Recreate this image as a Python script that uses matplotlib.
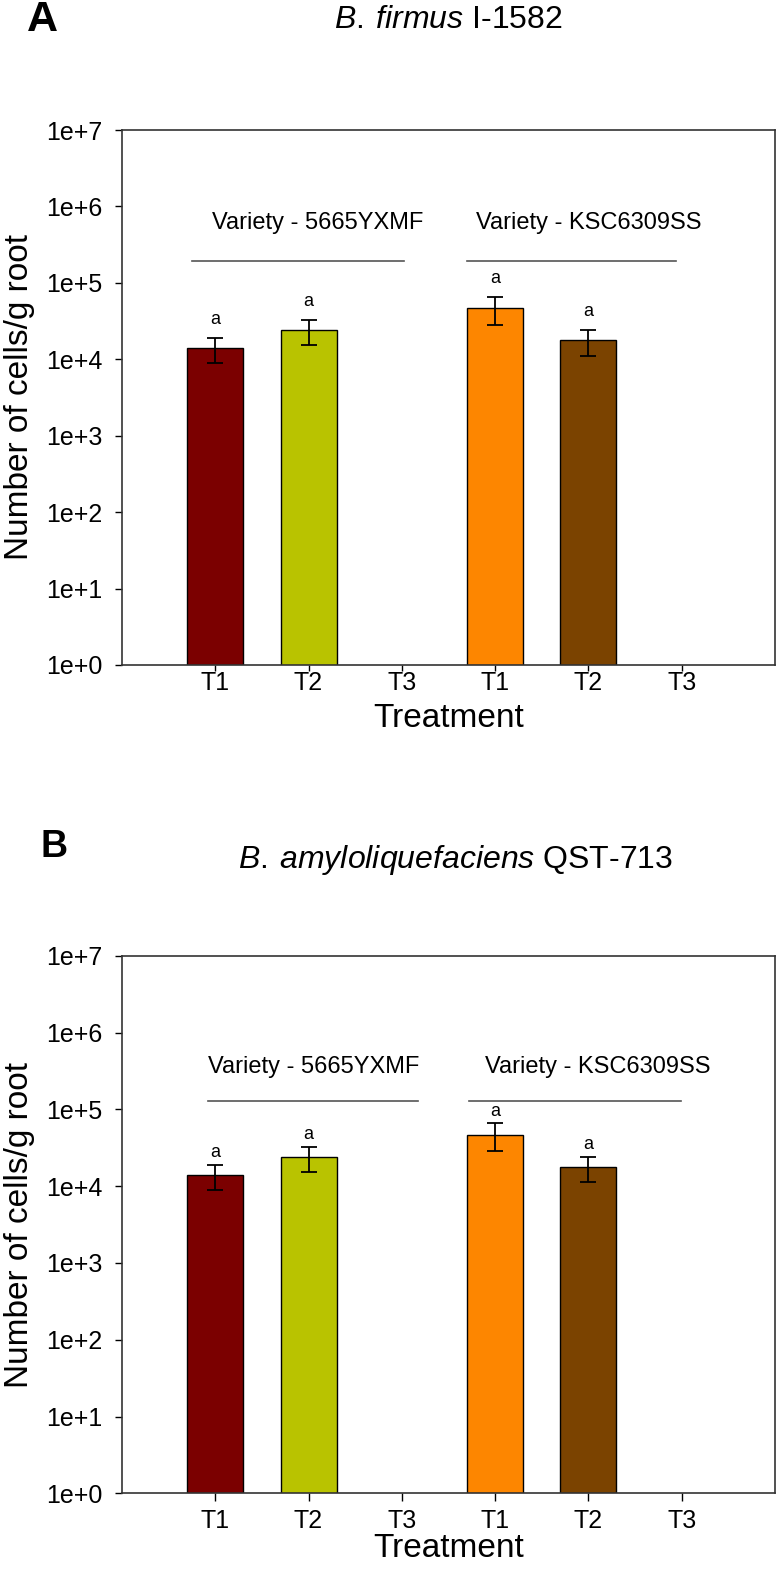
import numpy as np
import matplotlib
matplotlib.use("Agg")
import matplotlib.pyplot as plt

plt.rcParams['font.family'] = ['Liberation Sans', 'DejaVu Sans']
plt.rcParams['mathtext.fontset'] = 'custom'
plt.rcParams['mathtext.rm'] = 'Liberation Sans'
plt.rcParams['mathtext.it'] = 'Liberation Sans:italic'

# data (cells per g root), T3 has no recovery
treatments = ["T1", "T2", "T3", "T1", "T2", "T3"]
bar_colors = ["#7b0000", "#b9c300", "#fd8600", "#7b4300"]
counts = [14000, 24000, np.nan, 47000, 17700, np.nan]
errors = [5000, 8500, np.nan, 18500, 6500, np.nan]
letters = ["a", "a", "", "a", "a", ""]
varieties = ["Variety - 5665YXMF", "Variety - KSC6309SS"]

panels = ["A", "B"]
titles = [r"$\mathit{B.\:firmus}$ I-1582",
          r"$\mathit{B.\:amyloliquefaciens}$ QST-713"]

fig = plt.figure(figsize=(7.78, 15.72), dpi=100)

# axes positions in figure fraction
ax_pos = [[0.1568, 0.5770, 0.8393, 0.3403],
          [0.1568, 0.0500, 0.8393, 0.3420]]

x = np.arange(1, 7)
filled = ~np.isnan(counts)

for i in range(2):
    ax = fig.add_axes(ax_pos[i])
    ax.set_yscale("log")
    ax.set_xlim(0, 7)
    ax.set_ylim(1, 1e7)

    ax.bar(x[filled], np.array(counts)[filled], width=0.6, bottom=0,
           color=bar_colors, edgecolor="black", linewidth=1.0, zorder=2)
    ax.errorbar(x[filled], np.array(counts)[filled], yerr=np.array(errors)[filled],
                fmt="none", ecolor="black", elinewidth=1.3, capsize=6, capthick=1.3, zorder=3)

    # significance letters
    off = 1.74 if i == 0 else 1.45
    for xi, c, e, l in zip(x, counts, errors, letters):
        if l:
            ax.text(xi, (c + e) * off, l, ha="center", va="center", fontsize=13)

    # variety brackets
    if i == 0:
        lines = [(0.75, 3.02), (3.70, 5.94)]
        ly, ty = 10 ** 5.29, 10 ** 5.78
        tx = [2.10, 5.00]
    else:
        lines = [(0.92, 3.17), (3.72, 5.99)]
        ly, ty = 10 ** 5.11, 10 ** 5.55
        tx = [2.05, 5.10]
    for (a, b), t, name in zip(lines, tx, varieties):
        ax.plot([a, b], [ly, ly], color="#555555", lw=1.2, zorder=1)
        ax.text(t, ty, name, ha="center", va="center", fontsize=17)

    yt = [10 ** k for k in range(8)]
    ax.set_yticks(yt)
    ax.set_yticklabels([f"1e+{k}" for k in range(8)])
    ax.yaxis.set_minor_locator(matplotlib.ticker.NullLocator())
    ax.tick_params(axis="y", direction="out", length=5, width=1, pad=9, labelsize=18)

    ax.set_xticks(x)
    ax.set_xticklabels(treatments)
    if i == 0:
        ax.tick_params(axis="x", direction="out", length=4, width=1, pad=0, labelsize=18)
        ax.set_xlabel("Treatment", fontsize=24, labelpad=6)
    else:
        ax.tick_params(axis="x", direction="out", length=6, width=1, pad=5, labelsize=18)
        ax.set_xlabel("Treatment", fontsize=24, labelpad=0)

    ax.set_ylabel("Number of cells/g root", fontsize=24, labelpad=8)
    for s in ax.spines.values():
        s.set_linewidth(1.2)
        s.set_color("#333333")

# panel letters and titles
fig.text(0.054, 0.9875, "A", fontsize=31, fontweight="bold", ha="center", va="center")
fig.text(0.576, 0.9875, titles[0], fontsize=23, ha="center", va="center")
fig.text(0.069, 0.4613, "B", fontsize=27, fontweight="bold", ha="center", va="center")
fig.text(0.586, 0.4530, titles[1], fontsize=23, ha="center", va="center")

fig.savefig("out.png", dpi=100)
